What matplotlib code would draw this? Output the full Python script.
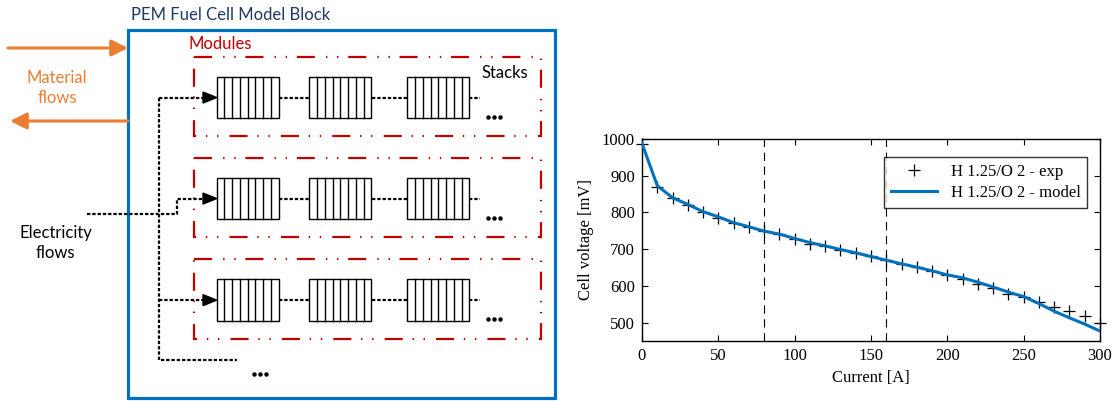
import matplotlib.pyplot as plt
import matplotlib.patches as mpatches

plt.rcParams['lines.scale_dashes'] = False

# polarisation curve data
current_exp = [0, 10, 20, 30, 40, 50, 60, 70, 80, 90, 100, 110, 120, 130, 140, 150,
               160, 170, 180, 190, 200, 210, 220, 230, 240, 250, 260, 270, 280, 290, 300]
voltage_exp = [986, 870, 838, 820, 802, 786, 770, 761, 749, 740, 729, 715, 709, 699, 690, 681,
               670, 659, 652, 640, 629, 620, 606, 593, 579, 570, 556, 543, 531, 517, 500]
current_model = [0, 10, 20, 30, 40, 50, 60, 70, 80, 90, 100, 110, 120, 130, 140, 150,
                 160, 170, 180, 190, 200, 210, 220, 230, 240, 250, 260, 270, 280, 290, 300]
voltage_model = [988, 873, 840, 822, 802, 788, 772, 761, 749, 741, 729, 718, 709, 699, 690, 680,
                 670, 660, 651, 641, 630, 622, 610, 597, 583, 571, 552, 531, 513, 496, 477]
region_limits = [80, 160]

W, H = 1118, 401
fig = plt.figure(figsize=(W / 100, H / 100), dpi=100)

# ---------------- left: block diagram (pixel coordinates) ----------------
ad = fig.add_axes([0, 0, 1, 1])
ad.set_xlim(0, W)
ad.set_ylim(H, 0)
ad.axis('off')

blue = '#0070C0'
orange = '#ED7D31'
red = '#C00000'
navy = '#1F3864'
sans = 'Lato'


def ellipsis(ax, xc, yc):
    # the "..." continuation marks of the diagram
    ax.plot([xc - 6, xc, xc + 6], [yc, yc, yc], 'o', color='black', ms=3.2, mew=0)


ad.add_patch(mpatches.Rectangle((127.7, 30), 555 - 127.7, 398 - 30, fill=False,
                                ec=blue, lw=2.3))
ad.text(131, 15, 'PEM Fuel Cell Model Block', color=navy, fontsize=12,
        family=sans, ha='left', va='center')

arrow_kw = dict(arrowstyle='-|>,head_length=1.0,head_width=0.5', color=orange,
                lw=2.2, mutation_scale=10, shrinkA=0, shrinkB=0)
ad.annotate('', xy=(128, 48), xytext=(8, 48), arrowprops=arrow_kw)
ad.annotate('', xy=(10, 121), xytext=(128, 121), arrowprops=arrow_kw)
ad.text(57, 88, 'Material\nflows', color=orange, fontsize=12, family=sans,
        ha='center', va='center', linespacing=1.3)
ad.text(55.7, 243, 'Electricity\nflows', color='black', fontsize=12, family=sans,
        ha='center', va='center', linespacing=1.3)
ad.text(189, 44, 'Modules', color=red, fontsize=12, family=sans, ha='left', va='center')
ad.text(481, 73.3, 'Stacks', color='black', fontsize=12, family=sans, ha='left', va='center')

module_tops = [56.7, 157.7, 259.3]
stack_x = [216.7, 309.3, 407.3]
stack_w, stack_h = 62, 41.7
dot_ls = (0, (2.4, 1.4))

for top in module_tops:
    ad.add_patch(mpatches.Rectangle((194.3, top), 541 - 194.3, 79.5, fill=False, ec=red,
                                    lw=1.6, linestyle=(0, (13, 8, 1, 7, 1, 7))))
    s_top = top + 20
    mid = s_top + stack_h / 2
    for x0 in stack_x:
        ad.add_patch(mpatches.Rectangle((x0, s_top), stack_w, stack_h, fc='white',
                                        ec='black', lw=1))
        for k in range(1, 8):
            xx = x0 + k * stack_w / 8
            ad.plot([xx, xx], [s_top, s_top + stack_h], color='black', lw=1)
    for xa, xb in [(279, 309.3), (371.7, 407.3), (469.3, 480)]:
        ad.plot([xa, xb], [mid, mid], color='black', lw=1.6, linestyle=dot_ls)
    ad.add_patch(mpatches.Polygon([(203, mid - 5.5), (216.7, mid), (203, mid + 5.5)],
                                  closed=True, color='black'))
    ellipsis(ad, 494, mid + 19)

mids = [t + 20 + stack_h / 2 for t in module_tops]
ad.plot([159.3, 159.3, 237.3], [mids[0], 360, 360], color='black', lw=1.6, linestyle=dot_ls)
ad.plot([159.3, 203], [mids[0], mids[0]], color='black', lw=1.6, linestyle=dot_ls)
ad.plot([159.3, 203], [mids[2], mids[2]], color='black', lw=1.6, linestyle=dot_ls)
ad.plot([87.3, 176.7, 176.7, 203], [214, 214, mids[1], mids[1]], color='black', lw=1.6,
        linestyle=dot_ls)
ellipsis(ad, 260, 374)

# ---------------- right: polarisation curve ----------------
serif = 'Liberation Serif'
ax = fig.add_axes([642 / W, 1 - 341 / H, (1100 - 642) / W, (341 - 139) / H])
for xv in region_limits:
    ax.axvline(xv, color='black', lw=0.8, linestyle=(0, (6, 4)))
ax.plot(current_exp, voltage_exp, '+', color='black', markersize=8, mew=0.9,
        label='H 1.25/O 2 - exp', clip_on=False, zorder=3)
ax.plot(current_model, voltage_model, color='#0072BD', lw=2.2,
        label='H 1.25/O 2 - model', zorder=4)
ax.set_xlim(0, 300)
ax.set_ylim(450, 1000)
ax.set_xticks(range(0, 301, 50))
ax.set_yticks(range(500, 1001, 100))
ax.tick_params(direction='in', top=True, right=True, length=4, width=0.8,
               labelsize=12, pad=5)
for lab in ax.get_xticklabels() + ax.get_yticklabels():
    lab.set_family(serif)
for sp in ax.spines.values():
    sp.set_linewidth(1.0)
ax.set_xlabel('Current [A]', family=serif, fontsize=12, labelpad=4)
ax.set_ylabel('Cell voltage [mV]', family=serif, fontsize=12, labelpad=6)
leg = ax.legend(loc='upper right', bbox_to_anchor=(0.99, 0.95), frameon=True, fancybox=False,
                edgecolor='black', prop={'family': serif, 'size': 12}, handlelength=2.8,
                borderpad=0.4, labelspacing=0.3)
leg.get_frame().set_linewidth(1.0)

fig.savefig('out.png', dpi=100)
